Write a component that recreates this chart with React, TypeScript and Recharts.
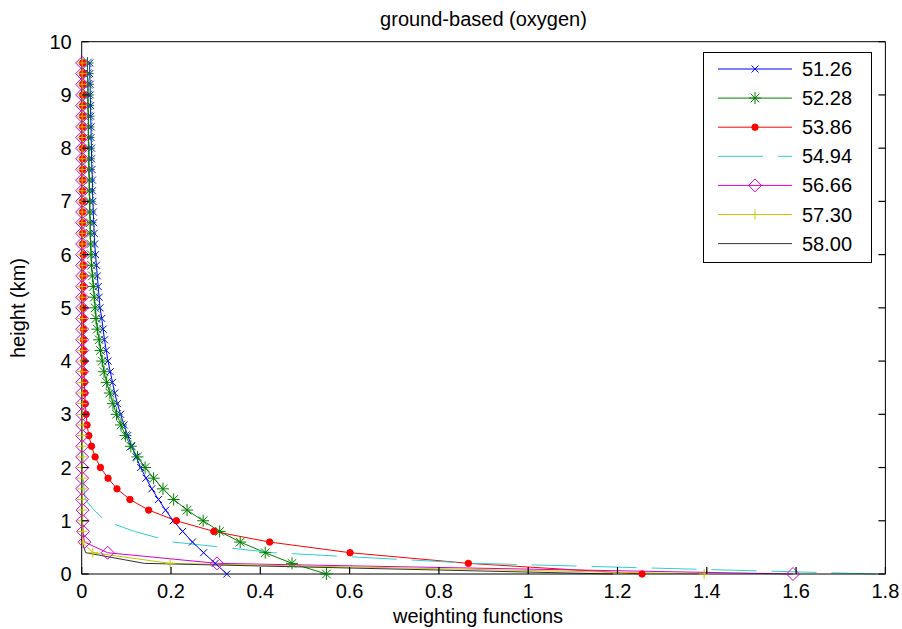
import { LineChart, Line, XAxis, YAxis, Legend } from 'recharts';

// heights in km (y values of every profile)
const HEIGHTS = [
  0, 0.2, 0.4, 0.6, 0.8, 1.0, 1.2, 1.4, 1.6, 1.8,
  2.0, 2.2, 2.4, 2.6, 2.8, 3.0, 3.2, 3.4, 3.6, 3.8,
  4.0, 4.2, 4.4, 4.6, 4.8, 5.0, 5.2, 5.4, 5.6, 5.8,
  6.0, 6.2, 6.4, 6.6, 6.8, 7.0, 7.2, 7.4, 7.6, 7.8,
  8.0, 8.2, 8.4, 8.6, 8.8, 9.0, 9.2, 9.4, 9.6,
];

// weighting functions per channel (GHz)
const WF_5126 = [
  0.325, 0.299, 0.273, 0.248, 0.226, 0.205, 0.188, 0.172, 0.157, 0.144,
  0.132, 0.122, 0.112, 0.103, 0.095, 0.087, 0.080, 0.074, 0.069, 0.064,
  0.059, 0.055, 0.051, 0.048, 0.045, 0.041, 0.039, 0.037, 0.035, 0.033,
  0.031, 0.029, 0.028, 0.027, 0.026, 0.025, 0.024, 0.024, 0.023, 0.022,
  0.022, 0.021, 0.021, 0.020, 0.020, 0.019, 0.019, 0.018, 0.018,
];
const WF_5228 = [
  0.548, 0.471, 0.411, 0.355, 0.309, 0.272, 0.236, 0.206, 0.182, 0.161,
  0.142, 0.125, 0.110, 0.098, 0.088, 0.078, 0.070, 0.063, 0.056, 0.050,
  0.046, 0.042, 0.039, 0.035, 0.032, 0.030, 0.028, 0.026, 0.024, 0.022,
  0.021, 0.020, 0.019, 0.019, 0.018, 0.018, 0.017, 0.017, 0.016, 0.016,
  0.016, 0.015, 0.015, 0.015, 0.014, 0.014, 0.014, 0.013, 0.013,
];
const WF_5386 = [
  1.255, 0.866, 0.601, 0.421, 0.296, 0.212, 0.150, 0.108, 0.079, 0.059,
  0.042, 0.030, 0.022, 0.016, 0.012, 0.010, 0.008, 0.007, 0.006, 0.005,
  0.005, 0.004, 0.004, 0.004, 0.004, 0.003, 0.003, 0.003, 0.003, 0.003,
  0.003, 0.002, 0.002, 0.002, 0.002, 0.002, 0.002, 0.002, 0.002, 0.002,
  0.002, 0.002, 0.002, 0.002, 0.002, 0.002, 0.002, 0.002, 0.002,
];
const WF_5494 = [
  1.78, 0.88, 0.43, 0.205, 0.118, 0.052, 0.028, 0.008, 0.005, 0.004,
  0.003, 0.003, 0.002, 0.002, 0.002, 0.002, 0.002, 0.002, 0.001, 0.001,
  0.001, 0.001, 0.001, 0.001, 0.001, 0.001, 0.001, 0.001, 0.001, 0.001,
  0.001, 0.001, 0.001, 0.001, 0.001, 0.001, 0.001, 0.001, 0.001, 0.001,
  0.001, 0.001, 0.001, 0.001, 0.001, 0.001, 0.001, 0.001, 0.001,
];
const WF_5666 = [
  1.593, 0.303, 0.058, 0.006, 0.003, 0.002, 0.002, 0.001, 0.001, 0.001,
  0.001, 0.001, 0.001, 0.001, 0.001, 0.001, 0.001, 0.001, 0.001, 0.001,
  0.001, 0.001, 0.001, 0.001, 0.001, 0.001, 0.001, 0.001, 0.001, 0.001,
  0.001, 0.001, 0.001, 0.001, 0.001, 0.001, 0.001, 0.001, 0.001, 0.001,
  0.001, 0.001, 0.001, 0.001, 0.001, 0.001, 0.001, 0.001, 0.001,
];
const WF_5730 = [
  1.394, 0.198, 0.025, 0.002, 0.001, 0.001, 0.001, 0.001, 0.001, 0.001,
  0.001, 0.001, 0.001, 0.001, 0.001, 0.001, 0.001, 0.001, 0.001, 0.001,
  0.001, 0.001, 0.001, 0.001, 0.001, 0.001, 0.001, 0.001, 0.001, 0.001,
  0.001, 0.001, 0.001, 0.001, 0.001, 0.001, 0.001, 0.001, 0.001, 0.001,
  0.001, 0.001, 0.001, 0.001, 0.001, 0.001, 0.001, 0.001, 0.001,
];
const WF_5800 = [
  1.19, 0.14, 0.009, 0.001, 0.0005, 0.0005, 0.0005, 0.0005, 0.0005, 0.0005,
  0.0005, 0.0005, 0.0005, 0.0005, 0.0005, 0.0005, 0.0005, 0.0005, 0.0005, 0.0005,
  0.0005, 0.0005, 0.0005, 0.0005, 0.0005, 0.0005, 0.0005, 0.0005, 0.0005, 0.0005,
  0.0005, 0.0005, 0.0005, 0.0005, 0.0005, 0.0005, 0.0005, 0.0005, 0.0005, 0.0005,
  0.0005, 0.0005, 0.0005, 0.0005, 0.0005, 0.0005, 0.0005, 0.0005, 0.0005,
];

const X_TICKS = [0, 0.2, 0.4, 0.6, 0.8, 1, 1.2, 1.4, 1.6, 1.8];
const Y_TICKS = [0, 1, 2, 3, 4, 5, 6, 7, 8, 9, 10];

type MarkerType = 'x' | 'star' | 'dot' | 'diamond' | 'plus' | null;

const SERIES: { key: string; name: string; values: number[]; color: string; marker: MarkerType; dash?: string }[] = [
  { key: 'c5126', name: '51.26', values: WF_5126, color: '#0000ff', marker: 'x' },
  { key: 'c5228', name: '52.28', values: WF_5228, color: '#008000', marker: 'star' },
  { key: 'c5386', name: '53.86', values: WF_5386, color: '#ff0000', marker: 'dot' },
  { key: 'c5494', name: '54.94', values: WF_5494, color: '#2fcfcf', marker: null, dash: '45 15' },
  { key: 'c5666', name: '56.66', values: WF_5666, color: '#d400d4', marker: 'diamond' },
  { key: 'c5730', name: '57.30', values: WF_5730, color: '#c8c800', marker: 'plus' },
  { key: 'c5800', name: '58.00', values: WF_5800, color: '#333333', marker: null },
];

const data = HEIGHTS.map((h, i) => {
  const row: Record<string, number> = { h };
  SERIES.forEach((s) => { row[s.key] = s.values[i]; });
  return row;
});

const FONT = '"Liberation Sans", Arial, Helvetica, sans-serif';
const TICK_LEN = 7;

function Marker({ type, cx, cy, color }: { type: MarkerType; cx: number; cy: number; color: string }) {
  if (cx == null || cy == null) return null;
  switch (type) {
    case 'x': {
      const r = 3.5;
      return (
        <g stroke={color} strokeWidth={1}>
          <line x1={cx - r} y1={cy - r} x2={cx + r} y2={cy + r} />
          <line x1={cx - r} y1={cy + r} x2={cx + r} y2={cy - r} />
        </g>
      );
    }
    case 'star': {
      const r = 6, d = 4.3;
      return (
        <g stroke={color} strokeWidth={1}>
          <line x1={cx - r} y1={cy} x2={cx + r} y2={cy} />
          <line x1={cx} y1={cy - r} x2={cx} y2={cy + r} />
          <line x1={cx - d} y1={cy - d} x2={cx + d} y2={cy + d} />
          <line x1={cx - d} y1={cy + d} x2={cx + d} y2={cy - d} />
        </g>
      );
    }
    case 'dot':
      return <circle cx={cx} cy={cy} r={3.2} fill={color} stroke={color} />;
    case 'diamond': {
      const r = 6.5;
      return (
        <path d={`M${cx},${cy - r}L${cx + r},${cy}L${cx},${cy + r}L${cx - r},${cy}Z`}
          fill="none" stroke={color} strokeWidth={1} />
      );
    }
    case 'plus': {
      const r = 5;
      return (
        <g stroke={color} strokeWidth={1}>
          <line x1={cx - r} y1={cy} x2={cx + r} y2={cy} />
          <line x1={cx} y1={cy - r} x2={cx} y2={cy + r} />
        </g>
      );
    }
    default:
      return null;
  }
}

// matlab-style ticks: pointing into the plot box
const BottomTick = ({ x, y, payload }: any) => (
  <g>
    <line x1={x} x2={x} y1={y - 10} y2={y - 10 - TICK_LEN} stroke="#000" strokeWidth={1.2} />
    <text x={x} y={y} dy="0.71em" textAnchor="middle" fontSize={20} fill="#000" fontFamily={FONT}>
      {String(payload.value)}
    </text>
  </g>
);
const LeftTick = ({ x, y, payload }: any) => (
  <g>
    <line x1={x + 10} x2={x + 10 + TICK_LEN} y1={y} y2={y} stroke="#000" strokeWidth={1.2} />
    <text x={x} y={y} dy="0.355em" textAnchor="end" fontSize={20} fill="#000" fontFamily={FONT}>
      {String(payload.value)}
    </text>
  </g>
);
const TopTick = ({ x, y }: any) => (
  <line x1={x} x2={x} y1={y} y2={y + TICK_LEN} stroke="#000" strokeWidth={1.2} />
);
const RightTick = ({ x, y }: any) => (
  <line x1={x - TICK_LEN} x2={x} y1={y} y2={y} stroke="#000" strokeWidth={1.2} />
);

function LegendBox() {
  return (
    <svg width={170} height={212} style={{ display: 'block' }}>
      <rect x={0.5} y={0.5} width={168} height={210} fill="#fff" stroke="#000" />
      {SERIES.map((s, i) => {
        const y = 17 + i * 29.1;
        return (
          <g key={s.key}>
            <line x1={15} x2={89} y1={y} y2={y} stroke={s.color} strokeDasharray={s.dash} />
            {s.marker && <Marker type={s.marker} cx={52} cy={y} color={s.color} />}
            <text x={99} y={y} dy="0.35em" fontSize={20} fill="#000" fontFamily={FONT}>{s.name}</text>
          </g>
        );
      })}
    </svg>
  );
}

export default function App() {
  return (
    <div style={{ position: 'absolute', left: 0, top: 0, background: '#fff' }}>
      <LineChart
        width={902}
        height={629}
        data={data}
        layout="vertical"
        margin={{ top: 40.7, right: 15.6, bottom: 25, left: 0 }}
        style={{ fontFamily: FONT }}
      >
        <XAxis xAxisId="b" type="number" domain={[0, 1.8]} ticks={X_TICKS} interval={0}
          height={30} tickSize={0} tickMargin={10} tick={<BottomTick />} tickLine={false}
          axisLine={{ stroke: '#000' }} />
        <XAxis xAxisId="t" orientation="top" type="number" domain={[0, 1.8]} ticks={X_TICKS} interval={0}
          height={1} tickSize={0} tickMargin={0} tick={<TopTick />} tickLine={false}
          axisLine={{ stroke: '#000' }} />
        <YAxis yAxisId="l" type="number" dataKey="h" domain={[0, 10]} ticks={Y_TICKS} interval={0}
          width={81.7} tickSize={0} tickMargin={10} tick={<LeftTick />} tickLine={false} reversed
          axisLine={{ stroke: '#000' }} />
        <YAxis yAxisId="r" orientation="right" type="number" dataKey="h" domain={[0, 10]} ticks={Y_TICKS}
          interval={0} width={1} tickSize={0} tickMargin={0} tick={<RightTick />} tickLine={false} reversed
          axisLine={{ stroke: '#000' }} />
        {SERIES.map((s) => (
          <Line
            key={s.key}
            xAxisId="b"
            yAxisId="l"
            dataKey={s.key}
            name={s.name}
            type="linear"
            stroke={s.color}
            strokeWidth={1}
            strokeDasharray={s.dash}
            dot={s.marker
              ? (p: any) => <Marker key={`${s.key}-${p.index}`} type={s.marker} cx={p.cx} cy={p.cy} color={s.color} />
              : false}
            activeDot={false}
            isAnimationActive={false}
          />
        ))}
        <Legend
          layout="vertical"
          align="center"
          verticalAlign="middle"
          content={() => <LegendBox />}
          wrapperStyle={{ left: 703, top: 52, width: 170, height: 212 }}
        />
        <text x={483.5} y={26} textAnchor="middle" fontSize={20} fill="#000" fontFamily={FONT}>
          ground-based (oxygen)
        </text>
        <text x={478} y={623.3} textAnchor="middle" fontSize={20} fill="#000" fontFamily={FONT}>
          weighting functions
        </text>
        <text transform="translate(24.5,308) rotate(-90)" textAnchor="middle" fontSize={20} fill="#000" fontFamily={FONT}>
          height (km)
        </text>
      </LineChart>
    </div>
  );
}
